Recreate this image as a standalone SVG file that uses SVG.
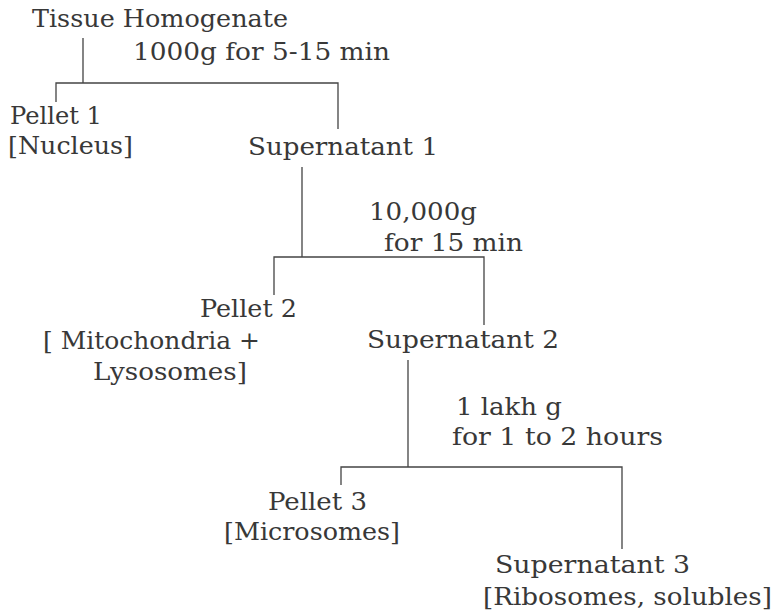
<svg xmlns="http://www.w3.org/2000/svg" width="778" height="612" viewBox="0 0 778 612">
<style>
text{font-family:"DejaVu Serif","Liberation Serif",serif;font-size:23.5px;fill:#383838}
.c{stroke:#444;stroke-width:1.3;fill:none}
</style>
<rect width="778" height="612" fill="#fff"/>
<g id="connectors">
<path class="c" d="M83,38V83M56,102V83H338V129"/>
<path class="c" d="M302,167V257M274,295V257H484V325"/>
<path class="c" d="M408,360V467M341,485V467H622V549"/>
</g>
<g id="tissue"><text x="32" y="27" textLength="256" lengthAdjust="spacingAndGlyphs">Tissue Homogenate</text></g>
<g id="step1"><text x="133" y="60" textLength="257" lengthAdjust="spacingAndGlyphs">1000g for 5-15 min</text></g>
<g id="pellet1"><text x="10" y="124" textLength="92" lengthAdjust="spacingAndGlyphs">Pellet 1</text><text x="8" y="154" textLength="125" lengthAdjust="spacingAndGlyphs">[Nucleus]</text></g>
<g id="super1"><text x="248" y="155" textLength="190" lengthAdjust="spacingAndGlyphs">Supernatant 1</text></g>
<g id="step2"><text x="369" y="220" textLength="108" lengthAdjust="spacingAndGlyphs">10,000g</text><text x="384" y="251" textLength="139" lengthAdjust="spacingAndGlyphs">for 15 min</text></g>
<g id="pellet2"><text x="200" y="317" textLength="97" lengthAdjust="spacingAndGlyphs">Pellet 2</text><text x="43" y="349" textLength="217" lengthAdjust="spacingAndGlyphs">[ Mitochondria +</text><text x="93" y="380" textLength="154" lengthAdjust="spacingAndGlyphs">Lysosomes]</text></g>
<g id="super2"><text x="367" y="348" textLength="192" lengthAdjust="spacingAndGlyphs">Supernatant 2</text></g>
<g id="step3"><text x="456" y="415" textLength="106" lengthAdjust="spacingAndGlyphs">1 lakh g</text><text x="452" y="445" textLength="211" lengthAdjust="spacingAndGlyphs">for 1 to 2 hours</text></g>
<g id="pellet3"><text x="268" y="510" textLength="99" lengthAdjust="spacingAndGlyphs">Pellet 3</text><text x="224" y="540" textLength="176" lengthAdjust="spacingAndGlyphs">[Microsomes]</text></g>
<g id="super3"><text x="495" y="573" textLength="195" lengthAdjust="spacingAndGlyphs">Supernatant 3</text><text x="483" y="605" textLength="289" lengthAdjust="spacingAndGlyphs">[Ribosomes, solubles]</text></g>
</svg>
